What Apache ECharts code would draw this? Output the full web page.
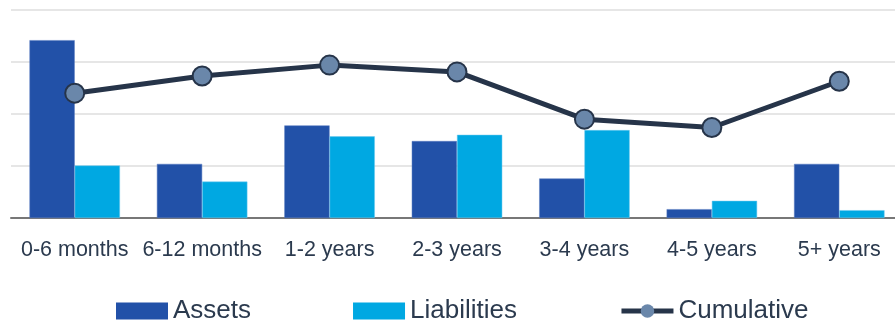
<!DOCTYPE html>
<html>
<head>
<meta charset="utf-8">
<style>
  html, body { margin: 0; padding: 0; background: #fff; overflow: hidden; }
  #chart { width: 903px; height: 322px; }
</style>
<script src="https://cdn.jsdelivr.net/npm/echarts@6/dist/echarts.min.js"></script>
</head>
<body>
<div id="chart"></div>
<script>
// Maturity buckets
const categories = ['0-6 months', '6-12 months', '1-2 years', '2-3 years', '3-4 years', '4-5 years', '5+ years'];
// Bucket amounts
const assets      = [342, 104, 178, 148, 76, 17, 104];
const liabilities = [101, 70, 157, 160, 169, 33, 15];
// Running gap position
const cumulative  = [240, 273, 294, 281, 190, 174, 263];

const FONT = '"Liberation Sans", Arial, sans-serif';
const TEXT = '#2b3a4e';

const chart = echarts.init(document.getElementById('chart'), null, { renderer: 'canvas' });
chart.setOption({
  animation: false,
  grid: { left: 11, top: 10, width: 892, bottom: 104, containLabel: false },
  legend: {
    top: 293,
    left: 111,
    itemWidth: 52,
    itemHeight: 17,
    itemGap: 102,
    itemStyle: { borderWidth: 0 },
    textStyle: { fontFamily: FONT, fontSize: 26, color: TEXT },
    data: [
      { name: 'Assets', icon: 'rect' },
      { name: 'Liabilities', icon: 'rect' },
      { name: 'Cumulative', lineStyle: { width: 5 } }
    ]
  },
  xAxis: {
    type: 'category',
    data: categories,
    axisTick: { show: false },
    axisLine: { lineStyle: { color: '#777', width: 2 } },
    axisLabel: { fontFamily: FONT, fontSize: 21.5, color: TEXT, margin: 21, interval: 0 }
  },
  yAxis: {
    type: 'value',
    min: 0, max: 400, interval: 100,
    axisLabel: { show: false },
    axisLine: { show: false },
    axisTick: { show: false },
    splitLine: { lineStyle: { color: '#e6e6e6', width: 2 } }
  },
  series: [
    {
      name: 'Assets', type: 'bar', data: assets,
      barGap: '0%', barCategoryGap: '29%',
      itemStyle: { color: '#2251a8', borderColor: '#5a7cc0', borderWidth: 0.5 }
    },
    {
      name: 'Liabilities', type: 'bar', data: liabilities,
      itemStyle: { color: '#00a8e2', borderColor: '#6cc9ef', borderWidth: 0.5 }
    },
    {
      name: 'Cumulative', type: 'line', data: cumulative, z: 5,
      symbol: 'circle', symbolSize: 19,
      lineStyle: { color: '#263449', width: 5 },
      itemStyle: { color: '#6a87aa', borderColor: '#263449', borderWidth: 2 }
    }
  ]
});
</script>
</body>
</html>
